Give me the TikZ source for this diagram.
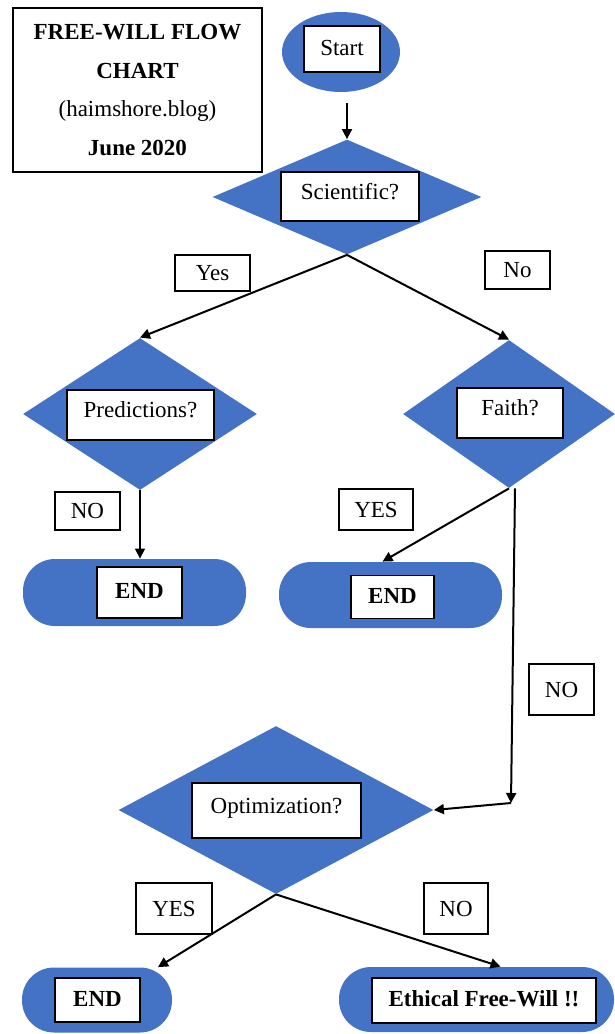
\documentclass[tikz,border=0pt]{standalone}
\usepackage{fontspec}
\setmainfont{Liberation Serif}
\usepackage{tikz}
\usetikzlibrary{arrows.meta,positioning,shapes.geometric,calc}
\definecolor{wblue}{HTML}{4472C4}

\begin{document}
\begin{tikzpicture}[
    x=0.5pt, y=-0.5pt,
    every node/.style={font=\fontsize{11.5}{13.8}\selectfont},
    decision/.style={diamond, fill=wblue, inner sep=0pt},
    terminal/.style={rectangle, rounded corners=16pt, fill=wblue, inner sep=0pt},
    textbox/.style={draw, fill=white, line width=0.75pt, inner sep=0pt, text height=7.5pt, text depth=1.5pt},
    qbox/.style={textbox, text height=8.5pt, text depth=6pt},
    tag/.style={draw, fill=white, line width=0.6pt, inner sep=0pt, text height=7.5pt, text depth=0pt},
    arrow/.style={-{Triangle[length=5pt,width=5pt]}, line width=1pt}
]
\useasboundingbox (0,0) rectangle (615,1034);

% Title
\node[draw, line width=0.6pt, minimum width=124.5pt, minimum height=82pt, align=center,
      font=\fontsize{11.5}{19.3}\selectfont] (title) at (137.5,90)
    {\textbf{FREE-WILL FLOW}\\\textbf{CHART}\\(haimshore.blog)\\\textbf{June 2020}};

% Start
\node[ellipse, fill=wblue, minimum width=59pt, minimum height=40pt, inner sep=0pt] (start) at (341,52) {};
\node[textbox, minimum width=38pt, minimum height=23pt] (startbox) at (342,49) {Start};

% Decisions
\node[decision, minimum width=134.5pt, minimum height=57.5pt] (sci) at (347,197) {};
\node[qbox, minimum width=69pt, minimum height=24.5pt] (scibox) at (350,196.5) {Scientific?};

\node[decision, minimum width=117pt, minimum height=76pt] (pred) at (140,414) {};
\node[qbox, minimum width=73.5pt, minimum height=25pt] (predbox) at (140.5,415) {Predictions?};

\node[decision, minimum width=106pt, minimum height=74pt] (faith) at (509,414) {};
\node[qbox, minimum width=53pt, minimum height=25pt] (faithbox) at (510,413) {Faith?};

\node[decision, minimum width=157.5pt, minimum height=84pt] (opt) at (276,810) {};
\node[qbox, minimum width=84.5pt, minimum height=27.5pt] (optbox) at (276.5,810.5) {Optimization?};

% Terminals
\node[terminal, minimum width=111.5pt, minimum height=33.5pt] (end1) at (134.5,592.5) {};
\node[textbox, minimum width=42.5pt, minimum height=25.5pt] (end1box) at (139.5,592.5) {\textbf{END}};

\node[terminal, minimum width=111.5pt, minimum height=33pt] (end2) at (390.5,595) {};
\node[textbox, minimum width=41.5pt, minimum height=21.5pt] (end2box) at (392.5,597) {\textbf{END}};

\node[terminal, minimum width=75pt, minimum height=32.5pt] (end3) at (97,1000) {};
\node[textbox, minimum width=42.5pt, minimum height=22pt] (end3box) at (97.5,1000) {\textbf{END}};

\node[terminal, minimum width=137.5pt, minimum height=32.5pt] (ethic) at (476.5,999.5) {};
\node[textbox, minimum width=112pt, minimum height=22.5pt] (ethicbox) at (484,1000.5) {\textbf{Ethical Free-Will !!}};

% Branch tags
\node[tag, minimum width=37.5pt, minimum height=18pt] (yes1) at (212.5,273) {Yes};
\node[tag, minimum width=32.5pt, minimum height=19pt] (no1) at (517.5,270) {No};
\node[tag, minimum width=32.5pt, minimum height=19pt] (no2) at (87.5,511) {NO};
\node[tag, minimum width=37pt, minimum height=20.5pt] (yes2) at (376,509.5) {YES};
\node[tag, minimum width=32.5pt, minimum height=25.5pt] (no3) at (561.5,689.5) {NO};
\node[tag, minimum width=38pt, minimum height=25.5pt] (yes3) at (174,908.5) {YES};
\node[tag, minimum width=32pt, minimum height=25.5pt] (no4) at (456,908.5) {NO};

% Arrows
\coordinate (bend) at (511,803);
\draw[arrow, shorten <=5.5pt] (start.south -| sci.north) -- (sci.north);
\draw[arrow] (sci.south) -- (pred.north);
\draw[arrow] (sci.south) -- (faith.north);
\draw[arrow, line width=0.7pt] (pred.south) -- (pred.south |- end1.north);
\draw[arrow] (faith.south) -- ([xshift=-4pt]end2.north);
\draw[arrow] ([xshift=3pt]faith.south) -- (bend);
\draw[arrow] (bend) -- (opt.east);
\draw[arrow] (opt.south) -- ([xshift=30.5pt]end3.north);
\draw[arrow] (opt.south) -- ([xshift=12pt]ethic.north);

\end{tikzpicture}
\end{document}
